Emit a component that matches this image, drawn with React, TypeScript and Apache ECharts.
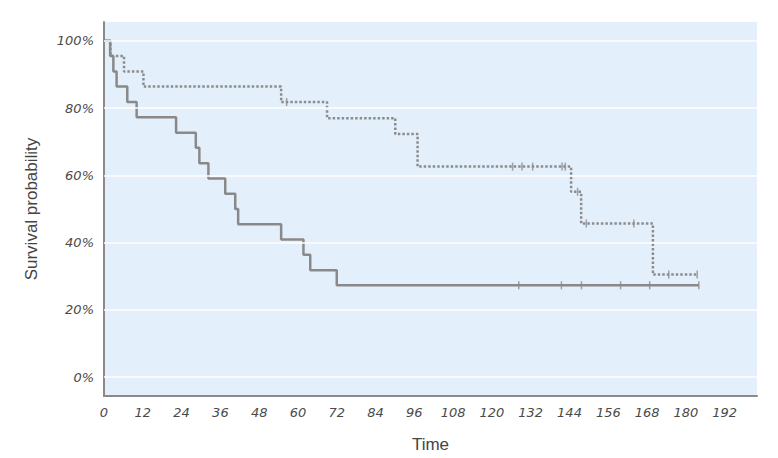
import React, { useEffect, useRef } from "react";
import * as echarts from "echarts";

// Group A (solid line): event times and survival after each event
const solidTimes = [0, 1.9, 2.9, 3.9, 7.2, 10.1, 22.3, 28.4, 29.5, 32.3, 37.5, 40.6, 41.5, 54.8, 61.7, 63.8, 72, 184];
const solidSurv = [1, 0.955, 0.909, 0.864, 0.818, 0.773, 0.727, 0.682, 0.636, 0.591, 0.545, 0.5, 0.455, 0.409, 0.364, 0.318, 0.273, 0.273];
const solidCensorTimes = [128.3, 141.5, 147.7, 159.8, 168.8, 184];

// Group B (dotted line)
const dottedTimes = [0, 2, 6.2, 12.2, 54.8, 69, 90.1, 97, 144.5, 147.6, 169.8, 183.5];
const dottedSurv = [1, 0.955, 0.909, 0.864, 0.818, 0.77, 0.723, 0.626, 0.551, 0.457, 0.305, 0.305];
const dottedCensorTimes = [56.5, 126.4, 129.3, 132.6, 141.7, 142.7, 146.5, 149.2, 163.9, 174.7, 183.5];

const yTickValues = [0, 0.2, 0.4, 0.6, 0.8, 1.0];

function survivalAt(times: number[], surv: number[], t: number): number {
  let v = surv[0];
  for (let i = 0; i < times.length; i++) {
    if (times[i] <= t) v = surv[i];
  }
  return v;
}

export default function App() {
  const ref = useRef<HTMLDivElement>(null);
  useEffect(() => {
    if (!ref.current) return;
    const chart = echarts.init(ref.current, null, { renderer: "svg" });
    const lineColor = "#898989";
    const dotColor = "#8c8c8c";
    const solidData = solidTimes.map((t, i) => [t, solidSurv[i]]);
    const dottedData = dottedTimes.map((t, i) => [t, dottedSurv[i]]);
    const solidCensor = solidCensorTimes.map((t) => [t, survivalAt(solidTimes, solidSurv, t)]);
    const dottedCensor = dottedCensorTimes.map((t) => [t, survivalAt(dottedTimes, dottedSurv, t)]);
    chart.setOption({
      animation: false,
      backgroundColor: "#ffffff",
      grid: {
        left: 104,
        top: 22,
        right: 21,
        bottom: 62,
        show: true,
        backgroundColor: "#e4effc",
        borderWidth: 0,
      },
      xAxis: {
        type: "value",
        min: 0,
        max: 202,
        interval: 12,
        name: "Time",
        nameLocation: "middle",
        nameGap: 40,
        nameTextStyle: { fontFamily: "Liberation Sans, Arial, sans-serif", fontSize: 17, color: "#444" },
        axisLine: { show: true, onZero: false, lineStyle: { color: "#8a8a8a", width: 2 } },
        axisTick: { show: false },
        splitLine: { show: false },
        axisLabel: {
          showMaxLabel: false,
          margin: 10,
          fontFamily: "DejaVu Sans, Verdana, sans-serif",
          fontStyle: "italic",
          fontSize: 13,
          color: "#4a4a4a",
        },
      },
      yAxis: {
        type: "value",
        min: -0.056,
        max: 1.056,
        name: "Survival probability",
        nameLocation: "middle",
        nameGap: 64,
        nameTextStyle: { fontFamily: "Liberation Sans, Arial, sans-serif", fontSize: 17, color: "#444" },
        axisLine: { show: true, onZero: false, lineStyle: { color: "#8a8a8a", width: 2 } },
        axisTick: { show: false },
        splitLine: { show: false },
        axisLabel: {
          customValues: yTickValues,
          margin: 10,
          fontFamily: "DejaVu Sans, Verdana, sans-serif",
          fontStyle: "italic",
          fontSize: 13,
          color: "#4a4a4a",
          formatter: (v: number) => Math.round(v * 100) + "%",
        },
      },
      series: [
        {
          type: "line",
          data: [],
          z: 1,
          silent: true,
          markLine: {
            silent: true,
            symbol: "none",
            label: { show: false },
            lineStyle: { color: "#ffffff", width: 1.5, type: "solid" },
            data: yTickValues.map((v) => ({ yAxis: v })),
          },
        },
        {
          type: "line",
          step: "end",
          data: dottedData,
          showSymbol: false,
          z: 3,
          lineStyle: { color: dotColor, width: 2.5, type: [2.5, 2] },
        },
        {
          type: "line",
          step: "end",
          data: solidData,
          showSymbol: false,
          z: 4,
          lineStyle: { color: lineColor, width: 2.5 },
        },
        {
          type: "scatter",
          data: dottedCensor,
          symbol: "rect",
          symbolSize: [1.5, 8],
          z: 5,
          itemStyle: { color: dotColor },
        },
        {
          type: "scatter",
          data: solidCensor,
          symbol: "rect",
          symbolSize: [1.5, 8],
          z: 5,
          itemStyle: { color: lineColor },
        },
      ],
    });
    return () => chart.dispose();
  }, []);
  return (
    <div
      ref={ref}
      style={{ position: "fixed", left: 0, top: 0, width: 778, height: 458 }}
    />
  );
}
